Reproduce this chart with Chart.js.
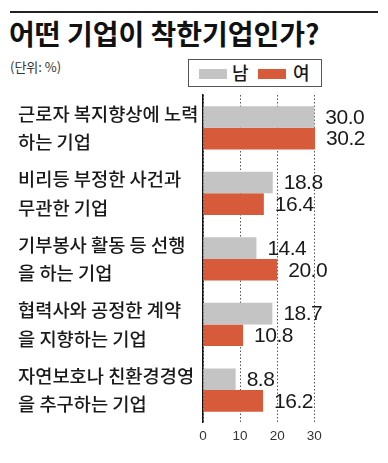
<!DOCTYPE html>
<html>
<head>
<meta charset="utf-8">
<script src="https://cdn.jsdelivr.net/npm/chart.js@4.4.1/dist/chart.umd.min.js"></script>
<style>
  html, body { margin: 0; padding: 0; background: #fff; }
  #wrap { position: relative; width: 388px; height: 463px; overflow: hidden; font-family: "Noto Sans CJK KR", sans-serif; color: #1a1a1a; }
  #rule { position: absolute; left: 10px; top: 11px; width: 368px; height: 2px; background: #222; }
  #title { position: absolute; left: 9px; top: 19px; font-size: 28px; line-height: 28px; font-weight: 700; white-space: nowrap; color: #111; }
  #unit { position: absolute; left: 10px; top: 59px; font-size: 13px; line-height: 16px; color: #333; }
  #legend { position: absolute; left: 188px; top: 59px; width: 132px; height: 26px; border: 1px solid #555; }
  .sw { position: absolute; top: 9px; width: 28px; height: 10px; }
  .lt { position: absolute; top: 1px; font-size: 18px; line-height: 22px; font-weight: 500; }
  canvas { position: absolute; left: 0; top: 0; }
</style>
</head>
<body>
<div id="wrap">
  <div id="rule"></div>
  <div id="title">어떤 기업이 착한기업인가?</div>
  <div id="unit">(단위: %)</div>
  <div id="legend"></div>
  <canvas id="myChart" width="388" height="463"></canvas>
</div>
<script>
// categories (two lines each) and values in %
const categories = [
  ['근로자 복지향상에 노력', '하는 기업'],
  ['비리등 부정한 사건과', '무관한 기업'],
  ['기부봉사 활동 등 선행', '을 하는 기업'],
  ['협력사와 공정한 계약', '을 지향하는 기업'],
  ['자연보호나 친환경경영', '을 추구하는 기업']
];
const seriesNames = ['남', '여'];
const male = [30.0, 18.8, 14.4, 18.7, 8.8];
const female = [30.2, 16.4, 20.0, 10.8, 16.2];
const xTicks = [0, 10, 20, 30];

const colors = ['#c4c4c4', '#d75a3a'];

// html legend built from the series names
const legend = document.getElementById('legend');
const swX = [10, 69], txtX = [43, 104];
seriesNames.forEach((name, i) => {
  const sw = document.createElement('div');
  sw.className = 'sw';
  sw.style.left = swX[i] + 'px';
  sw.style.background = colors[i];
  legend.appendChild(sw);
  const t = document.createElement('div');
  t.className = 'lt';
  t.style.left = txtX[i] + 'px';
  t.textContent = name;
  legend.appendChild(t);
});

// value labels at the end of each bar
const valueLabels = {
  id: 'valueLabels',
  afterDatasetsDraw(chart) {
    const ctx = chart.ctx;
    ctx.save();
    ctx.font = '21px "Liberation Sans", Arial, sans-serif';
    ctx.fillStyle = '#1a1a1a';
    ctx.textBaseline = 'middle';
    ctx.textAlign = 'left';
    if ('letterSpacing' in ctx) ctx.letterSpacing = '-0.5px';
    chart.data.datasets.forEach((ds, i) => {
      chart.getDatasetMeta(i).data.forEach((bar, j) => {
        ctx.fillText(ds.data[j].toFixed(1), bar.x + 11, bar.y + 1);
      });
    });
    ctx.restore();
  }
};

const ctx = document.getElementById('myChart').getContext('2d');

new Chart(ctx, {
  type: 'bar',
  data: {
    labels: categories,
    datasets: [
      { label: seriesNames[0], data: male, backgroundColor: colors[0] },
      { label: seriesNames[1], data: female, backgroundColor: colors[1] }
    ]
  },
  options: {
    indexAxis: 'y',
    responsive: false,
    animation: false,
    events: [],
    barPercentage: 1,
    categoryPercentage: 0.66,
    layout: { padding: { top: 95, left: 18, right: 36.6, bottom: 14 } },
    plugins: {
      legend: { display: false },
      tooltip: { enabled: false }
    },
    scales: {
      x: {
        min: 0,
        max: 40,
        afterBuildTicks: (scale) => { scale.ticks = xTicks.concat([40]).map(v => ({ value: v })); },
        ticks: {
          padding: 5,
          color: '#333',
          font: { family: '"Liberation Sans", Arial, sans-serif', size: 13.5 },
          callback: (v) => xTicks.includes(v) ? String(v) : null
        },
        grid: {
          drawTicks: false,
          lineWidth: 1,
          color: (c) => (c.tick && xTicks.includes(c.tick.value)) ? '#555' : 'rgba(0,0,0,0)'
        },
        border: { display: false, dash: [1.5, 2] }
      },
      y: {
        afterFit: (scale) => { scale.width = 185; },
        ticks: {
          crossAlign: 'far',
          color: '#1a1a1a',
          font: { family: '"Noto Sans CJK KR", sans-serif', size: 18.7, weight: 500, lineHeight: 1.52 }
        },
        grid: { display: false },
        border: { display: true, color: '#111', width: 1.5 }
      }
    }
  },
  plugins: [valueLabels]
});
</script>
</body>
</html>
